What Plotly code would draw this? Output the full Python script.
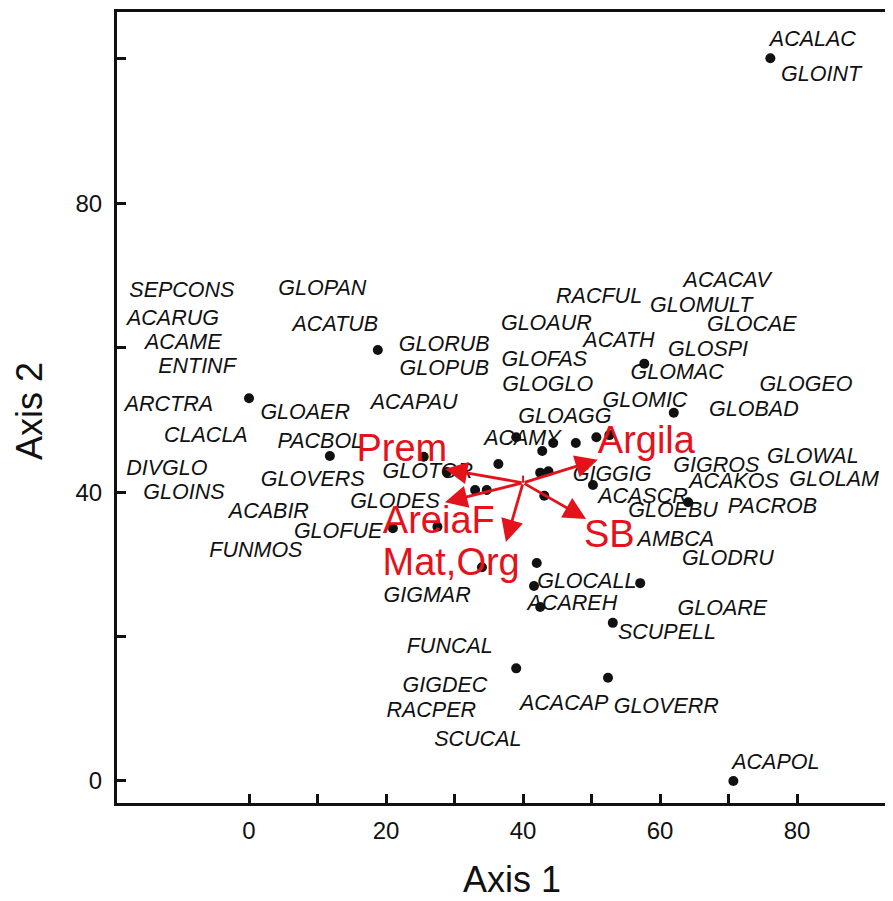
import plotly.graph_objects as go

# ---------------- DATA ----------------
point_x = [76.1, 18.8, 0.0, 57.7, 62.0, 11.8, 25.5, 28.9, 36.4, 39.0, 44.4, 47.7, 50.7, 52.6,
           42.8, 42.5, 43.7, 43.1, 50.2, 33.0, 34.7, 27.5, 21.0, 34.0, 42.0, 41.6, 42.5,
           57.1, 53.1, 39.0, 52.4, 70.7, 64.1]
point_y = [100.1, 59.7, 53.0, 57.8, 51.0, 45.0, 44.9, 42.8, 43.9, 47.6, 46.8, 46.8, 47.6, 47.9,
           45.7, 42.7, 42.9, 39.5, 41.0, 40.3, 40.3, 35.2, 35.0, 29.6, 30.2, 27.0, 24.1,
           27.4, 21.9, 15.6, 14.3, 0.0, 38.6]

species = ["ACALAC", "GLOINT", "SEPCONS", "GLOPAN", "ACACAV", "RACFUL", "GLOMULT", "ACARUG",
           "ACATUB", "GLOAUR", "GLOCAE", "ACAME", "GLORUB", "ACATH", "GLOSPI", "ENTINF",
           "GLOPUB", "GLOFAS", "GLOMAC", "GLOGLO", "GLOGEO", "ARCTRA", "GLOAER", "ACAPAU",
           "GLOMIC", "GLOBAD", "GLOAGG", "CLACLA", "PACBOL", "ACAMY", "DIVGLO", "GLOVERS",
           "GLOTOR", "GIGGIG", "GIGROS", "GLOWAL", "GLOLAM", "GLOINS", "ACAKOS", "GLODES",
           "ACASCR", "GLOEBU", "PACROB", "ACABIR", "GLOFUE", "AMBCA", "FUNMOS", "GLODRU",
           "GLOCALL", "GIGMAR", "ACAREH", "GLOARE", "SCUPELL", "FUNCAL", "GIGDEC", "ACACAP",
           "GLOVERR", "RACPER", "SCUCAL", "ACAPOL"]
label_x = [82.3, 83.5, -9.8, 10.7, 69.8, 51.1, 66.0, -11.1,
           12.6, 43.4, 73.4, -9.6, 28.5, 54.0, 67.0, -7.6,
           28.5, 43.1, 62.5, 43.6, 81.3, -11.7, 8.2, 24.1,
           57.8, 73.7, 46.1, -6.3, 10.4, 39.9, -12.0, 9.3,
           26.1, 53.0, 68.2, 82.3, 85.4, -9.5, 70.8, 21.3,
           57.5, 61.9, 76.4, 2.9, 13.0, 62.3, 1.0, 69.9,
           49.3, 26.0, 47.2, 69.1, 61.0, 29.3, 28.6, 46.0,
           60.9, 26.6, 33.4, 76.9]
label_y = [103.0, 98.2, 68.3, 68.6, 69.7, 67.5, 66.2, 64.4,
           63.6, 63.7, 63.6, 61.1, 60.8, 61.4, 60.1, 57.8,
           57.5, 58.7, 56.9, 55.3, 55.3, 52.5, 51.4, 52.8,
           53.0, 51.8, 50.8, 48.2, 47.4, 47.8, 43.6, 42.1,
           43.2, 42.8, 44.0, 45.3, 42.1, 40.3, 41.8, 39.1,
           39.8, 37.8, 38.4, 37.7, 34.9, 33.8, 32.3, 31.2,
           28.0, 26.0, 24.9, 24.2, 20.9, 19.0, 13.6, 11.1,
           10.7, 10.1, 6.1, 2.9]

env_vars = ["Prem", "AreiaF", "Mat,Org", "SB", "Argila"]
env_origin = (40.0, 41.3)
env_tip_x = [28.6, 28.6, 37.5, 49.2, 50.9]
env_tip_y = [43.2, 38.6, 33.1, 36.3, 44.5]
env_label_x = [22.3, 27.7, 29.5, 52.6, 58.0]
env_label_y = [46.1, 36.1, 30.2, 34.1, 47.1]
stub_tip = (40.0, 42.3)

x_tickvals = [0, 10, 20, 30, 40, 50, 60, 70, 80]
x_ticktext = ["0", "", "20", "", "40", "", "60", "", "80"]
y_tickvals = [0, 20, 40, 60, 80, 100]
y_ticktext = ["0", "", "40", "", "80", ""]

# ---------------- FIGURE ----------------
RED = "#e3121b"
FONT = "Liberation Sans, Arial, sans-serif"

fig = go.Figure()

fig.add_trace(go.Scatter(
    x=point_x, y=point_y, mode="markers",
    marker=dict(color="#111111", size=10),
    hoverinfo="skip", showlegend=False))

fig.add_trace(go.Scatter(
    x=label_x, y=label_y, text=species, mode="text",
    textposition="middle center",
    textfont=dict(family=FONT, size=21.5, color="#111111", style="italic"),
    hoverinfo="skip", showlegend=False))

# short stub line at vector origin
fig.add_trace(go.Scatter(
    x=[env_origin[0], stub_tip[0]], y=[env_origin[1], stub_tip[1]], mode="lines",
    line=dict(color=RED, width=2), hoverinfo="skip", showlegend=False))

for tx, ty in zip(env_tip_x, env_tip_y):
    fig.add_annotation(
        x=tx, y=ty, ax=env_origin[0], ay=env_origin[1],
        xref="x", yref="y", axref="x", ayref="y",
        text="", showarrow=True, arrowhead=2, arrowsize=1.6, arrowwidth=2.8,
        arrowcolor=RED, standoff=0, startstandoff=0)

fig.add_trace(go.Scatter(
    x=env_label_x, y=env_label_y, text=env_vars, mode="text",
    textposition="middle center",
    textfont=dict(family=FONT, size=38, color=RED),
    hoverinfo="skip", showlegend=False))

fig.add_annotation(text="Axis 1", xref="paper", yref="paper", x=0.509, y=-0.097,
                   showarrow=False, xanchor="center", yanchor="middle",
                   font=dict(family=FONT, size=36, color="#111111"))
fig.add_annotation(text="Axis 2", xref="paper", yref="paper", x=-0.112, y=0.4956,
                   showarrow=False, xanchor="center", yanchor="middle", textangle=-90,
                   font=dict(family=FONT, size=36, color="#111111"))

# the page body has an 8px margin, so the figure is sized/offset to compensate
fig.update_layout(
    width=885, height=893,
    margin=dict(l=109, r=0, t=4, b=98),
    paper_bgcolor="white", plot_bgcolor="white",
    xaxis=dict(range=[-19.27, 94.0], showgrid=False, zeroline=False,
               showline=True, linecolor="#111111", linewidth=3, mirror=True,
               ticks="inside", ticklen=9, tickwidth=3, tickcolor="#111111",
               tickvals=x_tickvals, ticktext=x_ticktext,
               tickfont=dict(family=FONT, size=24, color="#111111"),
               ticklabelstandoff=4),
    yaxis=dict(range=[-3.05, 106.5], showgrid=False, zeroline=False,
               showline=True, linecolor="#111111", linewidth=3, mirror=False,
               ticks="inside", ticklen=9, tickwidth=3, tickcolor="#111111",
               tickvals=y_tickvals, ticktext=y_ticktext,
               tickfont=dict(family=FONT, size=24, color="#111111"),
               ticklabelstandoff=7),
)

# text traces: plotly centres the full text box (incl. descent), nudge glyphs down slightly
fig.data[1].textfont.size = 21.5
fig.update_traces(selector=dict(mode="text"), texttemplate="%{text}")
fig.data[1].y = [v - 0.5 for v in label_y]
fig.data[3].y = [v - 0.4 for v in env_label_y]

fig.write_html("out.html")
